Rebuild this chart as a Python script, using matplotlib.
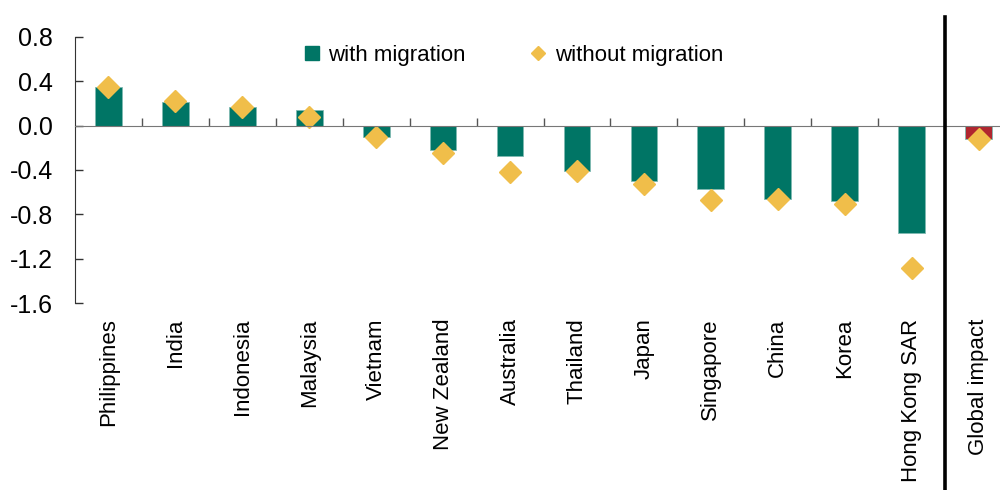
import matplotlib
matplotlib.use("Agg")
import matplotlib.pyplot as plt
from matplotlib.lines import Line2D
import numpy as np

plt.rcParams['font.family'] = ['Liberation Sans', 'DejaVu Sans']

categories = ["Philippines", "India", "Indonesia", "Malaysia", "Vietnam", "New Zealand",
              "Australia", "Thailand", "Japan", "Singapore", "China", "Korea",
              "Hong Kong SAR", "Global impact"]
with_migration = [0.35, 0.21, 0.165, 0.14, -0.10, -0.22, -0.27, -0.41, -0.50, -0.57,
                  -0.665, -0.68, -0.97, -0.117]
without_migration = [0.35, 0.22, 0.17, 0.08, -0.10, -0.25, -0.42, -0.41, -0.53, -0.67,
                     -0.66, -0.71, -1.28, -0.125]
yticks = [0.8, 0.4, 0.0, -0.4, -0.8, -1.2, -1.6]
ytick_labels = ["0.8", "0.4", "0.0", "-0.4", "-0.8", "-1.2", "-1.6"]

TEAL = "#007565"
GOLD = "#F0BE4A"
RED = "#B0262F"

fig = plt.figure(figsize=(10, 4.9), dpi=100)
ax = fig.add_axes([0.075, 0.3816, 0.937, 0.543])

x = np.arange(len(categories))
colors = [TEAL] * (len(categories) - 1) + [RED]
ax.bar(x, with_migration, width=0.4, color=colors, edgecolor="#7fbab2", linewidth=0.6, zorder=2)
ax.plot(x, without_migration, ls="none", marker="D", ms=11, color=GOLD, mec=GOLD, zorder=3)

ax.set_xlim(-0.5, len(categories) - 0.5)
ax.set_ylim(-1.6, 0.8)
ax.set_yticks(yticks)
ax.set_yticklabels(ytick_labels, fontsize=18)
ax.tick_params(axis="y", direction="in", length=6, width=1, color="#333333", pad=16)

for s in ["top", "right"]:
    ax.spines[s].set_visible(False)
ax.spines["left"].set_color("#333333")
ax.spines["bottom"].set_position(("data", 0))
ax.spines["bottom"].set_color("#777777")
ax.spines["bottom"].set_zorder(4)
ax.set_xticks(np.arange(len(categories) - 1) + 0.5)
ax.tick_params(axis="x", direction="in", length=6, width=1, color="#555555", labelbottom=False)

trans = ax.get_xaxis_transform()
for xi, lab in zip(x, categories):
    ax.text(xi, -0.058, lab, rotation=90, ha="center", va="top", fontsize=16,
            transform=trans)

ax.axvline(len(categories) - 1.5, ymin=-0.71, ymax=1.075, color="black", lw=2.6, clip_on=False, zorder=5)

handles = [Line2D([], [], ls="none", marker="s", ms=10, color=TEAL),
           Line2D([], [], ls="none", marker="D", ms=7, color=GOLD)]
ax.legend(handles, ["with migration", "without migration"], loc="center",
          bbox_to_anchor=(0.468, 0.932), ncol=2, frameon=False, fontsize=16,
          handlelength=0.7, handletextpad=0.4, columnspacing=2.9)

fig.savefig("out.png", dpi=100)
